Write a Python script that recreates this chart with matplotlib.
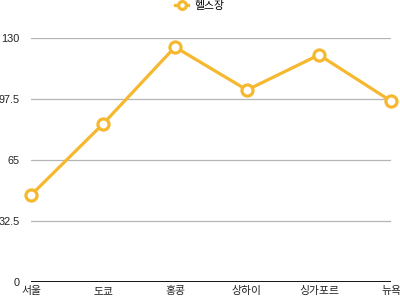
import matplotlib
matplotlib.use("Agg")
import matplotlib.pyplot as plt

plt.rcParams['font.family'] = ['Liberation Sans', 'Noto Sans CJK KR']

# data
cities = ['서울', '도쿄', '홍콩', '상하이', '싱가포르', '뉴욕']
gym = [46.3, 84.2, 125.2, 102.3, 121, 96.4]
yticks = [0, 32.5, 65, 97.5, 130]
ytick_labels = ['0', '32.5', '65', '97.5', '130']
series_name = '헬스장'

color = '#F5B82E'

fig = plt.figure(figsize=(4.0, 2.99), dpi=100)
ax = fig.add_axes([31 / 400, 17 / 299, 360 / 400, 244 / 299])

ax.plot(range(len(cities)), gym, color=color, lw=2.3, marker='o', ms=8,
        mfc='white', mec=color, mew=2.3, clip_on=False, zorder=3,
        label=series_name)

ax.set_xlim(0, len(cities) - 1)
ax.set_ylim(0, 130)
ax.set_yticks(yticks)
ax.set_yticklabels(ytick_labels)
ax.set_xticks(range(len(cities)))
ax.set_xticklabels(cities)

for y in yticks[1:]:
    ax.axhline(y, color='#b4b4b4', lw=0.9, zorder=1)
ax.axhline(0, color='black', lw=1.3, zorder=2)

for s in ax.spines.values():
    s.set_visible(False)
ax.tick_params(axis='both', length=0, labelsize=7.8, colors='#222222')
ax.tick_params(axis='y', pad=8)
ax.tick_params(axis='x', pad=3)

fig.legend(loc='upper center', bbox_to_anchor=(0.5, 1.03), frameon=False,
           fontsize=7.8, handlelength=1.2, handletextpad=0.6,
           markerscale=0.7)

fig.savefig('out.png', dpi=100)
